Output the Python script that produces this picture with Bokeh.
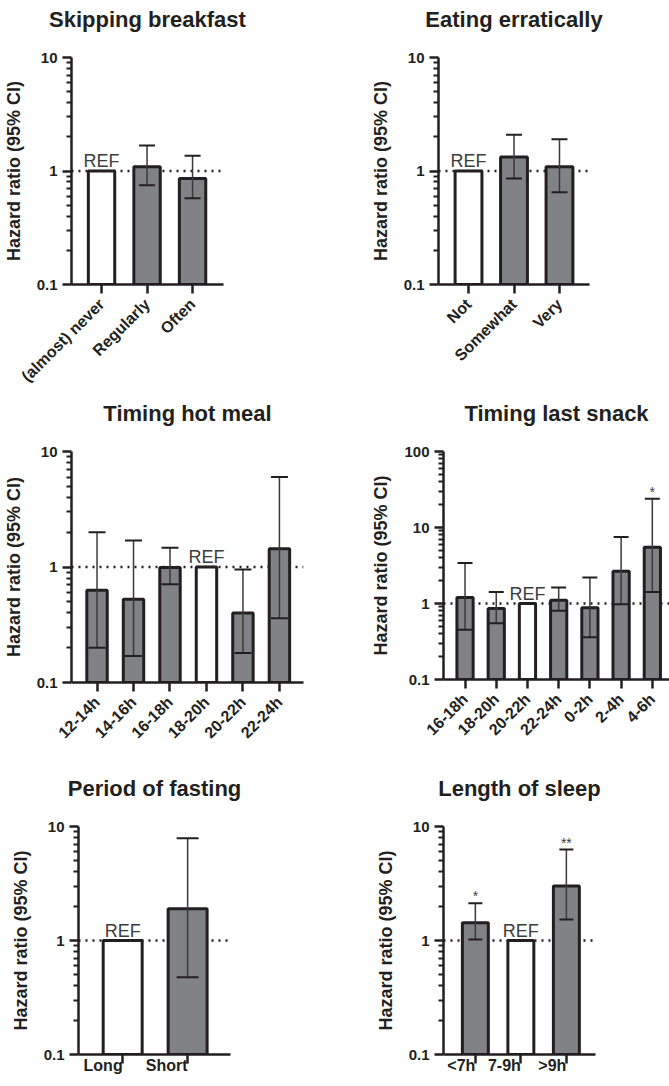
import numpy as np
from math import pi
from bokeh.plotting import figure
from bokeh.layouts import column, row
from bokeh.models import (Range1d, FixedTicker, Span, Label, Whisker, TeeHead,
                          ColumnDataSource)
from bokeh.embed import file_html
from bokeh.resources import INLINE

# ---------------- data ----------------
breakfast_title = "Skipping breakfast"
breakfast_cats = ["(almost) never", "Regularly", "Often"]
breakfast_hr = [1.0, 1.09, 0.86]
breakfast_lo = [None, 0.75, 0.575]
breakfast_hi = [None, 1.68, 1.36]
breakfast_ref = "(almost) never"
breakfast_sig = ["", "", ""]

erratic_title = "Eating erratically"
erratic_cats = ["Not", "Somewhat", "Very"]
erratic_hr = [1.0, 1.33, 1.09]
erratic_lo = [None, 0.86, 0.65]
erratic_hi = [None, 2.09, 1.9]
erratic_ref = "Not"
erratic_sig = ["", "", ""]

hotmeal_title = "Timing hot meal"
hotmeal_cats = ["12-14h", "14-16h", "16-18h", "18-20h", "20-22h", "22-24h"]
hotmeal_hr = [0.63, 0.525, 0.99, 1.0, 0.40, 1.44]
hotmeal_lo = [0.20, 0.17, 0.71, None, 0.18, 0.36]
hotmeal_hi = [2.0, 1.7, 1.47, None, 0.95, 6.0]
hotmeal_ref = "18-20h"
hotmeal_sig = ["", "", "", "", "", ""]

snack_title = "Timing last snack"
snack_cats = ["16-18h", "18-20h", "20-22h", "22-24h", "0-2h", "2-4h", "4-6h"]
snack_hr = [1.2, 0.86, 1.0, 1.1, 0.88, 2.65, 5.5]
snack_lo = [0.45, 0.55, None, 0.80, 0.36, 0.98, 1.42]
snack_hi = [3.4, 1.42, None, 1.62, 2.2, 7.5, 23.9]
snack_ref = "20-22h"
snack_sig = ["", "", "", "", "", "", "*"]

fasting_title = "Period of fasting"
fasting_cats = ["Long", "Short"]
fasting_hr = [1.0, 1.9]
fasting_lo = [None, 0.475]
fasting_hi = [None, 7.9]
fasting_ref = "Long"
fasting_sig = ["", ""]

sleep_title = "Length of sleep"
sleep_cats = ["<7h", "7-9h", ">9h"]
sleep_hr = [1.43, 1.0, 3.0]
sleep_lo = [1.02, None, 1.53]
sleep_hi = [2.12, None, 6.27]
sleep_ref = "7-9h"
sleep_sig = ["*", "", "**"]

y_label = "Hazard ratio (95% CI)"
ref_text = "REF"

# ---------------- style ----------------
FONT = "Liberation Sans"
INK = "#231f20"
GREY = "#808285"
SOFT = "#3c3c3e"


def make_panel(title, cats, hr, lo, hi, ref, sig, ymax, lay):
    n = len(cats)
    xs = list(range(n))
    p = figure(frame_width=lay["fw"], frame_height=lay["fh"],
               min_border_left=lay["l"], min_border_right=lay["r"],
               min_border_top=lay["t"], min_border_bottom=lay["b"],
               x_range=Range1d(lay["x0"], lay["x1"]),
               y_range=Range1d(0.1, ymax), y_axis_type="log",
               output_backend="svg", toolbar_location=None)
    p.outline_line_color = None
    p.xgrid.visible = False
    p.ygrid.visible = False
    p.background_fill_color = "white"
    p.border_fill_color = "white"

    # title (second, empty line keeps the title well above the frame)
    p.title.text = title + "\n"
    p.title.align = "center"
    p.title.text_font = FONT
    p.title.text_font_size = "22px"
    p.title.text_font_style = "bold"
    p.title.text_color = INK
    p.title.standoff = 1
    p.title.offset = lay.get("toff", 0)

    # reference line
    p.add_layout(Span(location=1, dimension="width", line_color=INK,
                      line_width=2.5, line_dash="2 5", level="underlay"))

    # bars
    fills = ["white" if c == ref else GREY for c in cats]
    src = ColumnDataSource(dict(x=xs, top=hr, fill=fills))
    p.vbar(x="x", top="top", bottom=0.1, width=lay["bw"], source=src,
           fill_color="fill", line_color=INK, line_width=3)

    # error bars
    wx = [x for x, l in zip(xs, lo) if l is not None]
    wl = [l for l in lo if l is not None]
    wh = [h for h in hi if h is not None]
    wsrc = ColumnDataSource(dict(base=wx, lower=wl, upper=wh))
    p.add_layout(Whisker(base="base", lower="lower", upper="upper", source=wsrc,
                         line_color="#3a3a3c", line_width=1.5, level="annotation",
                         upper_head=TeeHead(size=lay["cap"], line_color=INK, line_width=2),
                         lower_head=TeeHead(size=lay["cap"], line_color=INK, line_width=2)))

    # REF label
    ri = cats.index(ref)
    p.add_layout(Label(x=ri, y=hr[ri], text=ref_text, text_align="center",
                       text_baseline="alphabetic", y_offset=10, text_font=FONT,
                       text_font_size="18px", text_color=SOFT))

    # significance marks
    for x, s, h in zip(xs, sig, hi):
        if s:
            p.add_layout(Label(x=x, y=h, text=s, text_align="center",
                               text_baseline="alphabetic", y_offset=7, text_font=FONT,
                               text_font_size="14px", text_color=SOFT))

    # axes
    decades = [float(d) for d in 10.0 ** np.arange(-1, np.log10(ymax) + 1)]
    minors = [float(m * d) for d in decades[:-1] for m in range(2, 10)]
    ya = p.yaxis[0]
    ya.ticker = FixedTicker(ticks=decades, minor_ticks=minors)
    ya.major_label_overrides = {d: f"{d:g}" for d in decades}
    ya.axis_label = y_label
    ya.axis_label_text_font = FONT
    ya.axis_label_text_font_size = "18px"
    ya.axis_label_text_font_style = "bold"
    ya.axis_label_text_color = INK
    ya.axis_label_standoff = 10
    ya.major_label_text_font_size = "15px"
    ya.major_label_standoff = 5
    ya.minor_tick_out = 5
    ya.minor_tick_in = 0
    ya.minor_tick_line_width = 1.8
    ya.minor_tick_line_color = INK

    xa = p.xaxis[0]
    xa.ticker = FixedTicker(ticks=xs)
    xa.major_label_overrides = {i: c for i, c in enumerate(cats)}
    xa.major_label_orientation = lay["rot"]
    xa.major_label_text_font_size = "16px"
    xa.major_label_standoff = lay.get("xs", 3)
    xa.minor_tick_line_color = None

    for ax in (xa, ya):
        ax.axis_line_color = INK
        ax.axis_line_width = 2.5
        ax.major_tick_line_color = INK
        ax.major_tick_line_width = 2.5
        ax.major_tick_out = 9
        ax.major_tick_in = 0
        ax.major_label_text_font = FONT
        ax.major_label_text_font_style = "bold"
        ax.major_label_text_color = INK
    return p


ROT = pi / 4
f1 = make_panel(breakfast_title, breakfast_cats, breakfast_hr, breakfast_lo, breakfast_hi,
                breakfast_ref, breakfast_sig, 10,
                dict(fw=152, fh=227, l=70, r=113, t=57, b=110, x0=-0.66, x1=2.68,
                     bw=0.58, cap=16, rot=ROT, xs=8))
f2 = make_panel(erratic_title, erratic_cats, erratic_hr, erratic_lo, erratic_hi,
                erratic_ref, erratic_sig, 10,
                dict(fw=151, fh=227, l=102, r=81, t=57, b=110, x0=-0.66, x1=2.66,
                     bw=0.59, cap=16, rot=ROT, xs=8))
f3 = make_panel(hotmeal_title, hotmeal_cats, hotmeal_hr, hotmeal_lo, hotmeal_hi,
                hotmeal_ref, hotmeal_sig, 10,
                dict(fw=232, fh=231, l=70, r=33, t=57, b=69, x0=-0.70, x1=5.66,
                     bw=0.56, cap=17, rot=ROT, xs=8))
f4 = make_panel(snack_title, snack_cats, snack_hr, snack_lo, snack_hi,
                snack_ref, snack_sig, 100,
                dict(fw=226, fh=228, l=107, r=1, t=57, b=72, x0=-0.69, x1=6.55,
                     bw=0.52, cap=15, rot=ROT, xs=8))
f5 = make_panel(fasting_title, fasting_cats, fasting_hr, fasting_lo, fasting_hi,
                fasting_ref, fasting_sig, 10,
                dict(fw=152, fh=228, l=78, r=105, t=75, b=30, x0=-0.68, x1=1.66,
                     bw=0.6, cap=22, rot=0, xs=2))
f6 = make_panel(sleep_title, sleep_cats, sleep_hr, sleep_lo, sleep_hi,
                sleep_ref, sleep_sig, 10,
                dict(fw=152, fh=228, l=108, r=74, t=75, b=30, x0=-0.70, x1=2.64,
                     bw=0.57, cap=14, rot=0, xs=2))

layout = column(row(f1, f2), row(f3, f4), row(f5, f6))
open("out.html", "w").write(file_html(layout, INLINE))
